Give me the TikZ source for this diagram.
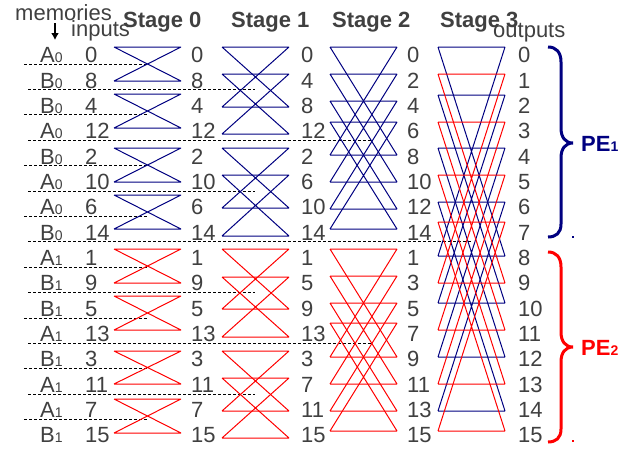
\documentclass[tikz,border=0pt]{standalone}
\usepackage{fontspec}
\setmainfont{Liberation Sans}
\usetikzlibrary{arrows.meta}
\definecolor{navy}{RGB}{0,0,128}
\definecolor{pered}{RGB}{255,0,0}
\definecolor{txt}{RGB}{64,64,64}
% row heights of the horizontal bars, per stage
\def\SA{{47,81,94,128,148,182,195,229,249,283,296,330,351,384,399,433}}
\def\SB{{47,74,107,134,148,175,208,236,249,277,309,337,351,378,411,438}}
\def\SC{{47,74,101,122,155,182,209,229,249,276,303,323,357,384,411,431}}
\def\SD{{47,74,95,122,148,175,202,222,256,283,303,330,357,384,411,431}}
\newcommand\bfly[5]{%
  \pgfmathsetmacro\xl{114+108*#1}%
  \pgfmathsetmacro\xr{\xl+67}%
  \pgfmathsetmacro\ya{#2[#3]}%
  \pgfmathsetmacro\yb{#2[#4]}%
  \coordinate (s#1l#3) at (\xl,\ya);
  \coordinate (s#1r#3) at (\xr,\ya);
  \coordinate (s#1l#4) at (\xl,\yb);
  \coordinate (s#1r#4) at (\xr,\yb);
  \draw[#5] (s#1l#3) -- (s#1r#3) (s#1l#4) -- (s#1r#4)
            (s#1l#3) -- (s#1r#4) (s#1l#4) -- (s#1r#3);
}
\begin{document}
\begin{tikzpicture}[x=1pt,y=-1pt,
  num/.style={inner sep=0pt, anchor=base west, text=txt, font=\fontsize{22}{26}\selectfont},
  ttl/.style={inner sep=0pt, anchor=base west, text=txt, font=\fontsize{22}{26}\selectfont\bfseries},
  bline/.style={line width=1pt, line join=round},
  blu/.style={bline, draw=navy},
  rd/.style={bline, draw=pered},
  sepline/.style={draw=black, line width=0.8pt, dash pattern=on 3pt off 2pt},
  bracestyle/.style={line width=3pt},
  pelabel/.style={inner sep=0pt, anchor=base west, font=\fontsize{22}{26}\selectfont\bfseries}
]
\useasboundingbox (0,0) rectangle (638,451);

% dashed memory separators
\foreach \k/\xa/\xb in {0/24/148,1/28/255,2/24/148,3/28/372,4/24/148,5/28/255,6/24/148,7/28/472,
                        8/24/148,9/28/255,10/24/148,11/28/372,12/24/148,13/28/255,14/24/148}{
  \coordinate (dl\k) at (\xa,{64+25.4*\k});
  \coordinate (dr\k) at (\xb,{64+25.4*\k});
  \draw[sepline] (dl\k) -- (dr\k);
}

% stage 0
\foreach \i/\j in {0/1,2/3,4/5,6/7}{\bfly{0}{\SA}{\i}{\j}{blu}}
\foreach \i/\j in {8/9,10/11,12/13,14/15}{\bfly{0}{\SA}{\i}{\j}{rd}}
% stage 1
\foreach \i/\j in {0/2,1/3,4/6,5/7}{\bfly{1}{\SB}{\i}{\j}{blu}}
\foreach \i/\j in {8/10,9/11,12/14,13/15}{\bfly{1}{\SB}{\i}{\j}{rd}}
% stage 2
\foreach \i/\j in {0/4,1/5,2/6,3/7}{\bfly{2}{\SC}{\i}{\j}{blu}}
\foreach \i/\j in {8/12,9/13,10/14,11/15}{\bfly{2}{\SC}{\i}{\j}{rd}}
% stage 3
\foreach \i/\j in {0/8,2/10,4/12,6/14}{\bfly{3}{\SD}{\i}{\j}{blu}}
\foreach \i/\j in {1/9,3/11,5/13,7/15}{\bfly{3}{\SD}{\i}{\j}{rd}}

% headers
\node[num] (memories) at (15,20) {memories};
\node[num] (inputs) at (71,36) {inputs};
\node[num] (outputs) at (493,37) {outputs};
\node[ttl] (st0) at (123,27) {Stage 0};
\node[ttl] (st1) at (231,27) {Stage 1};
\node[ttl] (st2) at (332,27) {Stage 2};
\node[ttl] (st3) at (440,27) {Stage 3};
\coordinate (arrS) at (55,23);
\coordinate (arrE) at (55,40);
\draw[line width=1.6pt, -{Latex[length=7pt,width=8pt]}] (arrS) -- (arrE);

% memory labels
\foreach \memL/\memD [count=\k from 0] in {A/0,B/0,B/0,A/0,B/0,A/0,A/0,B/0,A/1,B/1,B/1,A/1,B/1,A/1,A/1,B/1}{
  \node[num] (mem\k) at (40,{62.8+25.33*\k}) {\memL{\fontsize{14}{14}\selectfont\memD}};
}
% number columns
\foreach \v [count=\k from 0] in {0,8,4,12,2,10,6,14,1,9,5,13,3,11,7,15}{
  \node[num] (in\k) at (85,{62.8+25.33*\k}) {\v};
  \node[num] (oa\k) at (191,{62.8+25.33*\k}) {\v};
}
\foreach \v [count=\k from 0] in {0,4,8,12,2,6,10,14,1,5,9,13,3,7,11,15}{
  \node[num] (ob\k) at (301,{62.8+25.33*\k}) {\v};
}
\foreach \v [count=\k from 0] in {0,2,4,6,8,10,12,14,1,3,5,7,9,11,13,15}{
  \node[num] (oc\k) at (407,{62.8+25.33*\k}) {\v};
}
\foreach \v [count=\k from 0] in {0,...,15}{
  \node[num] (od\k) at (518,{62.8+25.33*\k}) {\v};
}

% braces
\draw[bracestyle, draw=navy] (548,47) .. controls (556,47) and (561,52) .. (561,62) -- (561,128)
  .. controls (561,137) and (565,143) .. (573,143)
  .. controls (565,143) and (561,149) .. (561,158) -- (561,224)
  .. controls (561,233) and (556,237) .. (548,237);
\draw[bracestyle, draw=pered] (548,252) .. controls (556,252) and (561,257) .. (561,267) -- (561,332)
  .. controls (561,341) and (565,347) .. (573,347)
  .. controls (565,347) and (561,353) .. (561,362) -- (561,429)
  .. controls (561,438) and (556,442) .. (548,442);
\node[pelabel, text=navy] (pe1) at (581,151) {PE{\fontsize{14}{14}\selectfont 1}};
\node[pelabel, text=pered] (pe2) at (581,355) {PE{\fontsize{14}{14}\selectfont 2}};
\fill[navy] (572,236) rectangle (574,238);
\fill[pered] (572,440) rectangle (574,442);
\end{tikzpicture}
\end{document}
